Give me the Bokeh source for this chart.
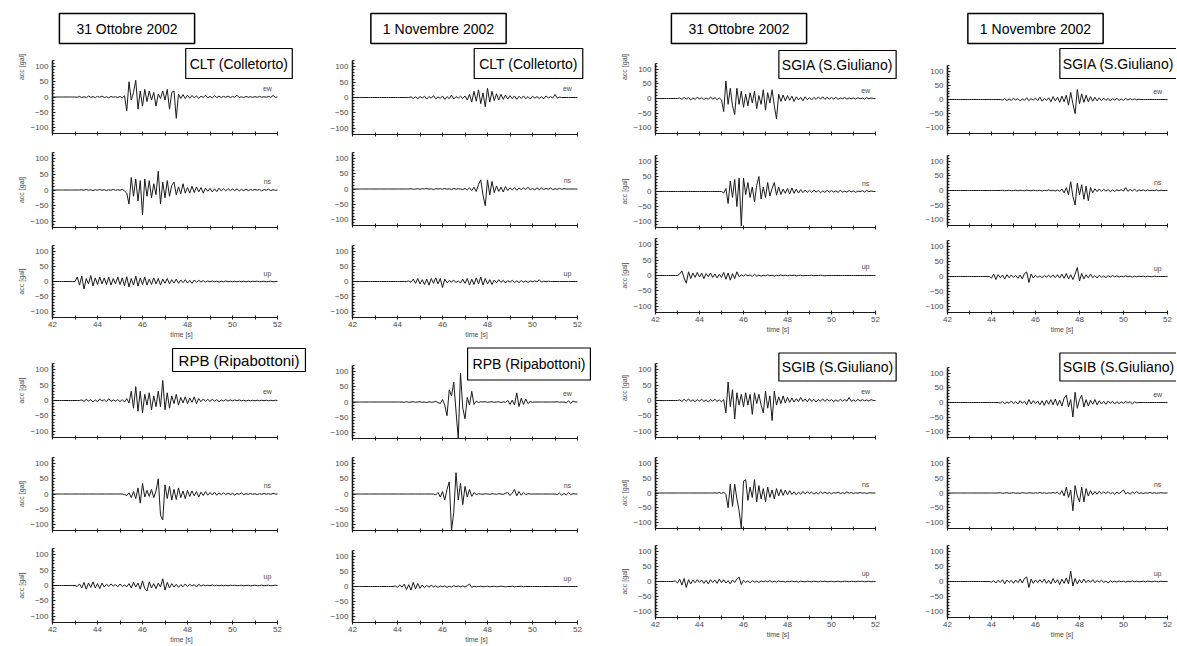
import numpy as np
from bokeh.plotting import figure
from bokeh.layouts import row, column
from bokeh.models import Label, FixedTicker, LinearAxis
from bokeh.embed import file_html
from bokeh.resources import INLINE

# ---------------------------------------------------------------- data
# time axis of every record: 42.0 ... 52.0 s, one sample every 0.1 s
TIME = np.round(np.arange(420, 521) / 10.0, 1)
X_TICKS = [42, 44, 46, 48, 50, 52]
X_MINOR = [43, 45, 47, 49, 51]
Y_TICKS = [-100, -50, 0, 50, 100]
Y_MINOR = [-120, -110, -90, -80, -70, -60, -40, -30, -20, -10,
           10, 20, 30, 40, 60, 70, 80, 90, 110, 120]
COMPONENTS = ["ew", "ns", "up"]
DATES = ["31 Ottobre 2002", "1 Novembre 2002", "31 Ottobre 2002", "1 Novembre 2002"]
STATIONS_TOP = ["CLT (Colletorto)", "CLT (Colletorto)", "SGIA (S.Giuliano)", "SGIA (S.Giuliano)"]
STATIONS_BOTTOM = ["RPB (Ripabottoni)", "RPB (Ripabottoni)", "SGIB (S.Giuliano)", "SGIB (S.Giuliano)"]

# acceleration [gal], rows = one second each (42 s ... 51 s), last value = 52.0 s
clt_31ott_ew = [
    0, 0, 0, 0, 0, 0, 0, 0, 0, 0,
    0, -1, 2, -2, 1, -2, 3, -1, 1, -2,
    2, -1, 3, -2, 1, -3, 2, -1, 1, -2,
    2, -3, 4, -45, 50, -10, 15, 55, -40, 20,
    -30, 25, -15, 20, -10, 15, -30, 10, -5, 20,
    -10, 25, -40, 15, 20, -70, 10, -5, 8, -5,
    6, -4, 5, -3, 4, -5, 3, -2, 6, -3,
    2, -3, 4, -2, 3, -2, 2, -1, 3, -2,
    2, -1, 6, -2, 1, -2, 2, -1, 1, -1,
    1, -1, 2, -1, 1, -1, 2, -1, 5, -1,
    0]
clt_31ott_ns = [
    0, 0, 0, 0, 0, 0, 0, 0, 0, 0,
    0, 0, 0, 1, -1, 2, -1, 1, -2, 1,
    -1, 2, -1, 1, -2, 1, -1, 2, -1, 1,
    -1, 2, -3, -10, -45, 40, -20, 35, -35, 30,
    -80, 35, -20, 30, -25, 20, -15, 60, -45, 25,
    -25, 30, -20, 15, 25, -15, 10, -12, 20, -10,
    8, -10, 12, -8, 10, -6, 8, -10, 6, -4,
    5, -6, 4, -5, 6, -3, 4, -3, 5, -2,
    3, -2, 4, -3, 2, -2, 3, -2, 2, -1,
    2, -1, 2, -3, 2, -1, 3, -2, 1, -1,
    0]
clt_31ott_up = [
    0, 0, 0, 0, 0, 0, 0, 0, 0, 0,
    0, 15, -12, 18, -25, 10, -8, 20, -15, 12,
    -10, 15, -8, 12, -10, 14, -12, 10, -8, 15,
    -10, 12, -14, 16, -18, 10, -12, 18, -15, 12,
    -10, 15, -12, 8, -10, 12, -8, 10, -12, 8,
    -6, 10, -8, 6, -5, 8, -6, 5, -4, 6,
    -5, 4, -6, 5, -3, 4, -2, 3, -2, 2,
    -1, 2, -1, 1, -2, 1, -1, 2, -1, 1,
    -1, 1, -1, 1, -1, 1, -1, 1, -1, 1,
    0, 1, -1, 0, 1, -1, 0, 1, -1, 0,
    0]
rpb_31ott_ew = [
    0, 0, 0, 0, 0, 0, 0, 0, 0, 0,
    0, 0, 0, 2, -3, 4, -2, 3, -5, 2,
    -4, 5, -2, 3, -4, 6, -3, 2, -2, 3,
    -4, 3, -5, 6, -8, 30, -25, 45, -35, 30,
    -40, 20, -15, 25, -30, 15, -20, 30, -20, 65,
    -30, 25, -25, 15, -10, 20, -15, 10, -8, 12,
    -10, 8, -6, 12, -10, 6, -4, 5, -3, 4,
    -3, 4, -2, 3, -4, 2, -2, 3, -2, 2,
    -1, 2, -1, 2, -1, 1, -2, 1, -1, 1,
    -1, 1, -1, 1, -1, 1, -1, 1, -1, 1,
    0]
rpb_31ott_ns = [
    0, 0, 0, 0, 0, 0, 0, 0, 0, 0,
    0, 0, 0, 0, 0, 0, 0, 0, 0, 0,
    0, 0, 0, 0, 0, 0, 0, 0, 0, 0,
    0, 0, -2, -5, 4, -12, 8, -15, 20, -30,
    35, -10, 12, -8, 15, -12, 10, 50, -70, -85,
    30, -15, 25, -20, 15, -18, 20, -12, 10, -15,
    12, -8, 10, -6, 8, -10, 6, -5, 8, -4,
    5, -3, 6, -4, 3, -2, 4, -2, 3, -2,
    2, -3, 2, -1, 3, -2, 1, -1, 2, -1,
    1, -2, 1, -1, 2, -1, 1, -1, 2, 0,
    0]
rpb_31ott_up = [
    0, 0, 0, 0, 0, 0, 0, 0, 0, 0,
    0, -3, 5, -8, 10, -12, 8, -6, 12, -8,
    6, -10, 8, -5, 4, -3, 5, -2, 3, -4,
    5, -3, 2, -4, 6, -8, 10, -5, 8, -12,
    15, -10, -18, 12, -8, 6, -10, 8, -5, 22,
    -15, 10, -8, 6, -5, 4, -6, 3, -4, 5,
    -3, 4, -2, 3, -5, 4, -2, 2, -1, 1,
    -1, 2, -1, 1, -1, 1, -1, 1, -1, 1,
    0, 1, -1, 0, 1, -1, 0, 1, -1, 0,
    1, -1, 0, 1, -1, 0, 1, -1, 0, 1,
    0]
clt_1nov_ew = [
    0, 0, 0, 0, 0, 0, 0, 0, 0, 0,
    0, 0, 0, 0, 0, 0, 0, 0, 0, 0,
    0, 0, 0, 0, 0, 0, 2, -3, 2, -4,
    3, -2, 4, -5, 3, -2, 6, -4, 2, -3,
    5, -6, 3, -4, 8, -5, 3, -2, 4, -3,
    5, -8, 10, -15, 20, -12, 25, -20, 15, -30,
    30, -15, 20, -10, 12, -8, 10, -6, 8, -5,
    6, -4, 5, -6, 4, -3, 5, -4, 3, -5,
    4, -2, 3, -3, 2, -4, 5, -2, 3, -2,
    10, -2, 1, 0, 0, 0, 0, 0, 0, 0,
    0]
clt_1nov_ns = [
    0, 0, 0, 0, 0, 0, 0, 0, 0, 0,
    0, 0, 0, 0, 0, 0, 0, 0, 0, 0,
    0, 0, 0, 0, 0, 0, 1, -1, 0, 1,
    -1, 1, 0, 2, -1, 1, -2, 1, 0, 1,
    -1, 2, -1, 1, -2, 2, -1, 1, 0, -2,
    2, -3, 4, -5, 6, -8, 15, 30, -20, -55,
    30, -20, 25, -12, 10, -8, 6, -10, 8, -5,
    4, -3, 5, -4, 3, -2, 4, -2, 6, -3,
    2, -3, 4, -2, 3, -2, 2, -1, 3, -2,
    1, -1, 2, -1, 1, 0, 0, 0, 0, 0,
    0]
clt_1nov_up = [
    0, 0, 0, 0, 0, 0, 0, 0, 0, 0,
    0, 0, 0, 0, 0, 0, 0, 0, 0, 0,
    0, 0, 0, 0, 0, 2, -3, 8, -6, 10,
    -8, 6, -10, 8, -12, 10, -6, 12, -8, 10,
    -20, 8, -4, 3, -2, 4, -3, 2, -5, 8,
    -6, 10, -12, 8, -10, 12, -8, 15, -12, 10,
    -8, 6, -10, 5, -4, 6, -3, 4, -5, 3,
    -2, 4, -3, 2, -4, 3, -2, 2, -3, 2,
    -1, 2, -1, 6, -2, 1, -1, 1, 0, 0,
    0, 0, 0, 0, 0, 0, 0, 0, 0, 0,
    0]
rpb_1nov_ew = [
    0, 0, 0, 0, 0, 0, 0, 0, 0, 0,
    0, 0, 0, 0, 0, 0, 0, 0, 0, 0,
    0, 0, 0, -1, 1, -1, 0, 1, -1, 0,
    1, -1, 0, -2, 1, -1, 0, 2, -2, -5,
    8, -10, -45, 40, 20, 65, -30, -120, 95, -20,
    -55, 15, -10, 35, -8, 3, -2, 1, 0, 1,
    -1, 0, 1, -1, 0, 1, -2, 1, -1, 5,
    -8, 6, -10, 30, -15, 12, -8, 10, -5, 2,
    -1, 0, 0, 0, 0, 0, 0, 0, 0, 0,
    0, 1, -1, 0, 0, -3, 4, -5, 3, 0,
    0]
rpb_1nov_ns = [
    0, 0, 0, 0, 0, 0, 0, 0, 0, 0,
    0, 0, 0, 0, 0, 0, 0, 0, 0, 0,
    0, 0, 0, 0, 0, 0, 0, 0, 0, 0,
    0, 0, 0, 0, 0, 0, 0, -3, 5, -10,
    8, -20, 15, 40, -120, -60, 70, -20, 35, -35,
    25, -10, 15, -8, 5, -2, 1, 0, -1, 1,
    0, -1, 1, 0, -1, 1, 0, -1, 2, 5,
    -5, 3, 15, -6, 8, -4, 5, -2, 1, 0,
    0, 0, 0, 0, 0, 0, 0, 0, 0, 0,
    0, -2, 3, -4, 2, -3, 4, -2, 1, 0,
    0]
rpb_1nov_up = [
    0, 0, 0, 0, 0, 0, 0, 0, 0, 0,
    0, 0, 0, 0, 0, 0, 0, 0, 0, 2,
    -3, 5, -2, 8, -10, 6, -12, 14, -8, 10,
    -6, 5, -4, 3, -2, 4, -1, 2, -3, 2,
    -1, 2, -3, 1, -2, 3, -1, 2, -1, 2,
    -2, 3, 8, -3, 1, -1, 0, 1, -1, 0,
    1, -1, 0, 1, -1, 0, 1, 0, -1, 0,
    0, 1, -1, 0, 0, 1, -1, 0, 0, 0,
    0, 0, 0, 0, 0, 0, 0, 0, 0, 0,
    0, 0, 0, 0, 0, 0, 0, 0, 0, 0,
    0]
sgia_31ott_ew = [
    0, 0, 0, 0, 0, 0, 0, 0, 0, 0,
    0, 2, -3, 4, -2, 3, -5, 2, -3, 4,
    -2, 3, -4, 2, -3, 5, -2, 3, -4, 2,
    -5, -45, 60, -20, 35, -25, -55, 35, -20, 25,
    -30, 15, -25, 20, -15, 25, -35, 10, -20, 30,
    -40, 20, -15, 30, -25, -70, 15, -10, 12, -8,
    10, -6, 8, -10, 6, -5, 4, -8, 6, -4,
    3, -5, 4, -3, 5, -2, 6, -3, 4, -2,
    3, -2, 4, -3, 2, -1, 3, -2, 2, -1,
    2, -2, 3, -1, 2, -2, 3, -1, 2, 0,
    0]
sgia_31ott_ns = [
    0, 0, 0, 0, 0, 0, 0, 0, 0, 0,
    0, 0, 0, 0, 0, 0, 0, 0, 0, 0,
    0, 0, 0, 0, 0, 0, 0, 0, 0, 0,
    0, -5, 10, -40, 35, -20, 40, -50, 45, -115,
    45, -10, 30, -20, 15, -35, 20, 50, -25, 15,
    -20, 30, -15, 10, 30, -12, 15, -10, 8, -6,
    10, -8, 12, -6, 8, -5, 6, -4, 5, -3,
    4, -3, 5, -2, 3, -4, 2, -3, 4, -2,
    3, -2, 2, -3, 4, -2, 1, -2, 3, -1,
    2, -3, 2, -1, 3, -2, 4, -1, 2, 0,
    0]
sgia_31ott_up = [
    0, 0, 0, 0, 0, 0, 0, 0, 0, 0,
    0, 5, 15, -8, -25, 12, -10, 8, -6, 10,
    -5, 8, -10, 6, -4, 8, -6, 5, -8, 4,
    -6, 10, -12, 8, -15, 6, -10, 12, -4, 2,
    -2, 3, -1, 2, -3, 4, -2, 1, -2, 1,
    -1, 2, -1, 1, -2, 1, -1, 2, -1, 1,
    -1, 1, 0, 1, -1, 0, 1, -1, 0, 0,
    0, 1, -1, 0, 0, 1, 0, -1, 0, 0,
    0, 0, 0, 0, 0, 0, 0, 0, 0, 0,
    0, 0, 0, 0, 0, 0, 0, 0, 0, 0,
    0]
sgib_31ott_ew = [
    0, 0, 0, 0, 0, 0, 0, 0, 0, 0,
    0, 2, -3, 4, -2, 5, -3, 2, -4, 3,
    -2, 4, -3, 2, -5, 3, -2, 4, -3, 2,
    -4, 3, -40, 60, -20, 35, -60, 25, -15, 20,
    -20, 25, -15, 20, -45, 25, -10, 20, -15, -40,
    30, -25, 15, -65, 30, -15, 12, -10, 15, -8,
    10, -6, 8, -5, 6, -4, 10, -3, 5, -4,
    6, -3, 4, -5, 3, -2, 5, -3, 4, -2,
    3, -4, 2, -3, 4, -2, 3, -2, 10, -3,
    2, -3, 4, -2, 3, -1, 2, -2, 3, 0,
    0]
sgib_31ott_ns = [
    0, 0, 0, 0, 0, 0, 0, 0, 0, 0,
    0, 0, 0, 0, 0, 0, 0, 0, 0, 0,
    0, 0, 0, 0, 0, 0, 0, 1, -1, 2,
    -2, 3, -5, -50, 30, -45, 30, -20, -60, -120,
    40, 45, -25, 20, -15, 45, -30, 25, -20, 15,
    -30, 20, -15, 10, -20, 15, -10, 12, -8, 10,
    -6, 8, -5, 4, -6, 3, -4, 5, -3, 4,
    -2, 3, -4, 2, -3, 4, -2, 3, -2, 2,
    -3, 2, -1, 3, -2, 1, -2, 4, -1, 2,
    -2, 1, -1, 2, -1, 1, -2, 1, 0, 0,
    0]
sgib_31ott_up = [
    0, 0, 0, 0, 0, 0, 0, 0, 0, 2,
    -5, 8, -12, 10, -20, 6, -8, 5, -4, 6,
    -3, 5, -6, 4, -8, 6, -3, 5, -6, 8,
    -4, 6, -5, 3, -8, 5, -3, 8, 15, -10,
    4, -3, 2, -4, 3, -2, 1, -3, 2, -1,
    2, -1, 3, -2, 1, -2, 2, -1, 1, -2,
    1, -1, 2, -1, 1, -2, 1, 0, -1, 1,
    0, -1, 1, 0, -1, 1, 0, 1, -1, 0,
    1, -1, 0, 1, -1, 0, 1, 0, -1, 1,
    0, -1, 1, 0, 1, -1, 0, 1, -1, 0,
    0]
sgia_1nov_ew = [
    0, 0, 0, 0, 0, 0, 0, 0, 0, 0,
    0, 0, 0, 0, 0, 0, 0, 0, 0, 0,
    0, 0, 0, 0, 0, -2, 3, -4, 2, -3,
    4, -2, 3, -5, 2, -3, 6, -4, 3, -2,
    5, -4, 8, -6, 4, -3, 6, -8, 10, -5,
    8, -10, 12, -8, 15, -20, 25, -15, -50, 35,
    -15, 20, -10, 15, -8, 10, -6, 8, -5, 6,
    -4, 5, -3, 4, -5, 3, -2, 4, -3, 2,
    -3, 4, -2, 3, -1, 2, -1, 1, 0, 0,
    0, 0, 0, 0, 0, 0, 0, 0, 0, 0,
    0]
sgia_1nov_ns = [
    0, 0, 0, 0, 0, 0, 0, 0, 0, 0,
    0, 0, 0, 0, 0, 0, 0, 0, 0, 0,
    0, 0, 0, 0, 0, 1, -1, 0, 1, -1,
    0, 1, -1, 1, 0, -1, 1, 0, -1, 1,
    0, -1, 1, -2, 1, -1, 2, -1, 1, -2,
    2, -3, 5, -8, 10, -15, 30, -20, -50, 25,
    -15, 20, -30, 15, -35, 10, -8, 6, -4, 5,
    -3, 4, -2, 3, -4, 2, -3, 2, -1, 3,
    -2, 10, -3, 4, -2, 5, -3, 2, -1, 2,
    -1, 2, -1, 1, -1, 2, -1, 1, 0, 0,
    0]
sgia_1nov_up = [
    0, 0, 0, 0, 0, 0, 0, 0, 0, 0,
    0, 0, 0, 0, 0, 0, 0, 0, 0, 0,
    -5, 8, -10, 6, -4, 5, -8, 6, -4, 5,
    -3, 4, -6, 5, -8, 10, 15, -20, 8, -5,
    4, -3, 2, -4, 3, -2, 4, -3, 5, -4,
    6, -5, 8, -6, 10, -8, 6, -10, 8, 30,
    -15, 10, -8, 6, -5, 8, -4, 3, -5, 4,
    -3, 2, -4, 3, -2, 3, -1, 2, -2, 1,
    -1, 2, -1, 1, -2, 1, -1, 1, 0, 1,
    -1, 1, 0, -1, 1, 0, 0, 0, 0, 0,
    0]
sgib_1nov_ew = [
    0, 0, 0, 0, 0, 0, 0, 0, 0, 0,
    0, 0, 0, 0, 0, 0, 0, 0, 0, 0,
    0, 0, 0, 0, -2, 3, -4, 2, -3, 5,
    -4, 3, -5, 6, -3, 4, -8, 10, -5, 6,
    -4, 5, -8, 6, -10, 8, -6, 10, -8, 12,
    -10, 8, -12, 15, 25, -15, 10, -50, 35, -20,
    10, 25, -15, 10, -12, 8, -6, 10, -8, 6,
    -5, 4, -6, 5, -3, 4, -5, 3, -4, 2,
    -3, 4, -2, 3, -5, 2, -1, 0, 0, 0,
    0, 0, 0, 0, 0, 0, 0, 0, 0, 0,
    0]
sgib_1nov_ns = [
    0, 0, 0, 0, 0, 0, 0, 0, 0, 0,
    0, 0, 0, 0, 0, 0, 0, 0, 0, 0,
    0, 0, 0, 0, 1, -1, 0, 1, -1, 0,
    1, -1, 0, -1, 1, 0, -1, 1, 0, -1,
    1, -1, 2, -1, 1, -2, 1, -1, 2, -1,
    3, -5, 8, -10, 20, -15, 10, -60, 25, -10,
    -30, 20, -30, 15, -10, 8, -6, 5, -4, 6,
    -3, 4, -2, 5, -3, 2, -4, 3, -2, 4,
    10, -3, 2, -4, 3, -2, 5, -2, 1, -2,
    1, -1, 2, -1, 1, -1, 0, 1, 0, 0,
    0]
sgib_1nov_up = [
    0, 0, 0, 0, 0, 0, 0, 0, 0, 0,
    0, 0, 0, 0, 0, 0, 0, 0, 0, 0,
    -2, 3, -5, 4, -3, 6, -8, 5, -3, 4,
    -6, 5, -4, 8, -5, 10, 15, -20, 8, -6,
    5, -4, 6, -3, 8, -6, 4, -8, 10, -5,
    6, -10, 8, -6, 12, -8, 35, -15, 10, -8,
    6, -5, 8, -4, 5, -3, 6, -4, 3, -2,
    4, -3, 2, -5, 3, -2, 1, -2, 2, -1,
    1, -2, 1, -1, 2, -1, 1, -1, 0, 1,
    -1, 1, 0, -1, 1, 0, -1, 1, 0, 0,
    0]

TRACES = [
    [[clt_31ott_ew, clt_31ott_ns, clt_31ott_up], [rpb_31ott_ew, rpb_31ott_ns, rpb_31ott_up]],
    [[clt_1nov_ew, clt_1nov_ns, clt_1nov_up], [rpb_1nov_ew, rpb_1nov_ns, rpb_1nov_up]],
    [[sgia_31ott_ew, sgia_31ott_ns, sgia_31ott_up], [sgib_31ott_ew, sgib_31ott_ns, sgib_31ott_up]],
    [[sgia_1nov_ew, sgia_1nov_ns, sgia_1nov_up], [sgib_1nov_ew, sgib_1nov_ns, sgib_1nov_up]],
]

# ---------------------------------------------------------------- layout (page pixel coords)
# (figure left, figure right, frame left, frame right of the 42..52 s window)
COL_X = [(0, 310, 52, 277), (310, 600, 352, 577), (600, 900, 655, 875), (900, 1176, 947, 1167)]
FRAMES = [
    [(60, 133), (152, 227), (245, 317), (363, 437), (457, 530), (548, 624)],
    [(60, 134), (152, 225), (245, 317), (365, 438), (457, 530), (550, 623)],
    [(63, 133), (155, 227), (238, 312), (363, 437), (457, 528), (545, 617)],
    [(65, 133), (155, 225), (240, 312), (367, 437), (457, 528), (545, 617)],
]
PAGE_BOTTOM = 645
HAS_YLABEL = [True, False, True, False]
HEADER_POS = [(126.5, 28), (438, 28), (738.5, 28), (1035, 28)]
# label padding is (horizontal, vertical)
HEADER_PAD = [(17, 7), (12, 7), (17, 7), (12, 7)]
STATION_TOP = [((238.5, 63), "14px", (4, 7)), ((528, 63), "14px", (5, 7)),
               ((837, 64), "14px", (3, 6)), ((1118, 63), "14px", (3, 7))]
STATION_BOTTOM = [((238.5, 359.5), "15px", (6, 3)), ((528.5, 363.5), "14px", (5, 8)),
                  ((837, 366.5), "14px", (3, 6)), ((1118, 366.5), "14px", (3, 6))]

FONT = "Liberation Sans"
INK = "#1a1a1a"
GREY = "#4a4a4a"


def to_data(px, py, fl, fr, ft, fb):
    return 42 + (px - fl) * 10.0 / (fr - fl), -120 + (fb - py) * 240.0 / (fb - ft)


def fix(vals):
    vals = list(vals)[:101]
    return vals + [0] * (101 - len(vals))


columns = []
for ci in range(4):
    x0, x1, fl, fr = COL_X[ci]
    frames = FRAMES[ci]
    bounds = [0, frames[0][1] + 9, frames[1][1] + 9, frames[2][1] + 26,
              frames[3][1] + 9, frames[4][1] + 9, PAGE_BOTTOM]
    # every frame reaches the right edge of its figure; the time axis keeps its
    # 42..52 s extent (axis bounds), so boxes that overhang the window are not clipped
    x_end = 42 + (x1 - fl) * 10.0 / (fr - fl)
    figs = []
    for pi in range(6):
        ft, fb = frames[pi]
        bt, bb = bounds[pi], bounds[pi + 1]
        half, comp = divmod(pi, 3)
        vals = fix(TRACES[ci][half][comp])
        last = comp == 2
        is_ew = comp == 0
        if is_ew:
            y_end = -120 + (fb - bt) * 240.0 / (fb - ft)
            top_border = 0
        else:
            y_end = 120
            top_border = ft - bt
        p = figure(width=x1 - x0, height=bb - bt, x_range=(42, x_end), y_range=(-120, y_end),
                   output_backend="svg", toolbar_location=None,
                   x_axis_type=None, y_axis_type=None,
                   min_border_left=fl - x0, min_border_right=0,
                   min_border_top=top_border, min_border_bottom=bb - fb)
        p.outline_line_color = None
        p.background_fill_color = "white"
        p.border_fill_color = "white"

        yax = LinearAxis(ticker=FixedTicker(ticks=Y_TICKS, minor_ticks=Y_MINOR), bounds=(-120, 120))
        yax.axis_label = "acc [gal]" if HAS_YLABEL[ci] else None
        yax.axis_line_color = INK
        yax.axis_line_width = 1.6
        yax.major_tick_line_color = INK
        yax.minor_tick_line_color = INK
        yax.major_tick_in, yax.major_tick_out = 3, 0
        yax.minor_tick_in, yax.minor_tick_out = 2, 0
        yax.major_label_standoff = 4
        yax.axis_label_standoff = 2
        yax.major_label_text_font = FONT
        yax.major_label_text_font_size = "8px"
        yax.major_label_text_color = GREY
        yax.axis_label_text_font = FONT
        yax.axis_label_text_font_size = "7px"
        yax.axis_label_text_font_style = "normal"
        yax.axis_label_text_color = GREY
        p.add_layout(yax, "left")

        xax = LinearAxis(ticker=FixedTicker(ticks=X_TICKS, minor_ticks=X_MINOR), bounds=(42, 52))
        xax.axis_line_color = INK
        xax.axis_line_width = 1.2
        xax.major_tick_line_color = INK
        xax.minor_tick_line_color = INK
        xax.major_tick_in, xax.major_tick_out = 2, 2
        xax.minor_tick_in, xax.minor_tick_out = 2, 2
        xax.major_label_text_font = FONT
        xax.major_label_text_font_size = "8px"
        xax.major_label_text_color = GREY
        xax.axis_label_text_font = FONT
        xax.axis_label_text_font_size = "7px"
        xax.axis_label_text_font_style = "normal"
        xax.axis_label_text_color = GREY
        if last:
            xax.axis_label = "time [s]"
            xax.major_label_standoff = 2
            xax.axis_label_standoff = 1
        else:
            xax.major_label_overrides = {t: "" for t in X_TICKS}
            xax.major_label_standoff = 0
        p.add_layout(xax, "below")

        p.line(TIME, vals, line_color=INK, line_width=1)

        p.add_layout(Label(x=51.55, y=28, text=COMPONENTS[comp], text_font=FONT,
                           text_font_size="7px", text_color=GREY,
                           text_align="center", text_baseline="middle"))

        if is_ew:
            if half == 0:
                hx, hy = to_data(*HEADER_POS[ci], fl, fr, ft, fb)
                p.add_layout(Label(x=hx, y=hy, text=DATES[ci], text_font=FONT,
                                   text_font_size="14px", text_color="black",
                                   text_align="center", text_baseline="middle",
                                   background_fill_color="white",
                                   border_line_color="black", border_line_width=1.5,
                                   padding=HEADER_PAD[ci]))
                sname, (spos, sfont, spad) = STATIONS_TOP[ci], STATION_TOP[ci]
            else:
                sname, (spos, sfont, spad) = STATIONS_BOTTOM[ci], STATION_BOTTOM[ci]
            sx, sy = to_data(*spos, fl, fr, ft, fb)
            p.add_layout(Label(x=sx, y=sy, text=sname, text_font=FONT,
                               text_font_size=sfont, text_color="black",
                               text_align="center", text_baseline="middle",
                               background_fill_color="white",
                               border_line_color="black", border_line_width=1.2,
                               padding=spad))
        figs.append(p)
    columns.append(column(*figs, spacing=0))

layout = row(*columns, spacing=0)

open("out.html", "w").write(file_html(layout, INLINE))
